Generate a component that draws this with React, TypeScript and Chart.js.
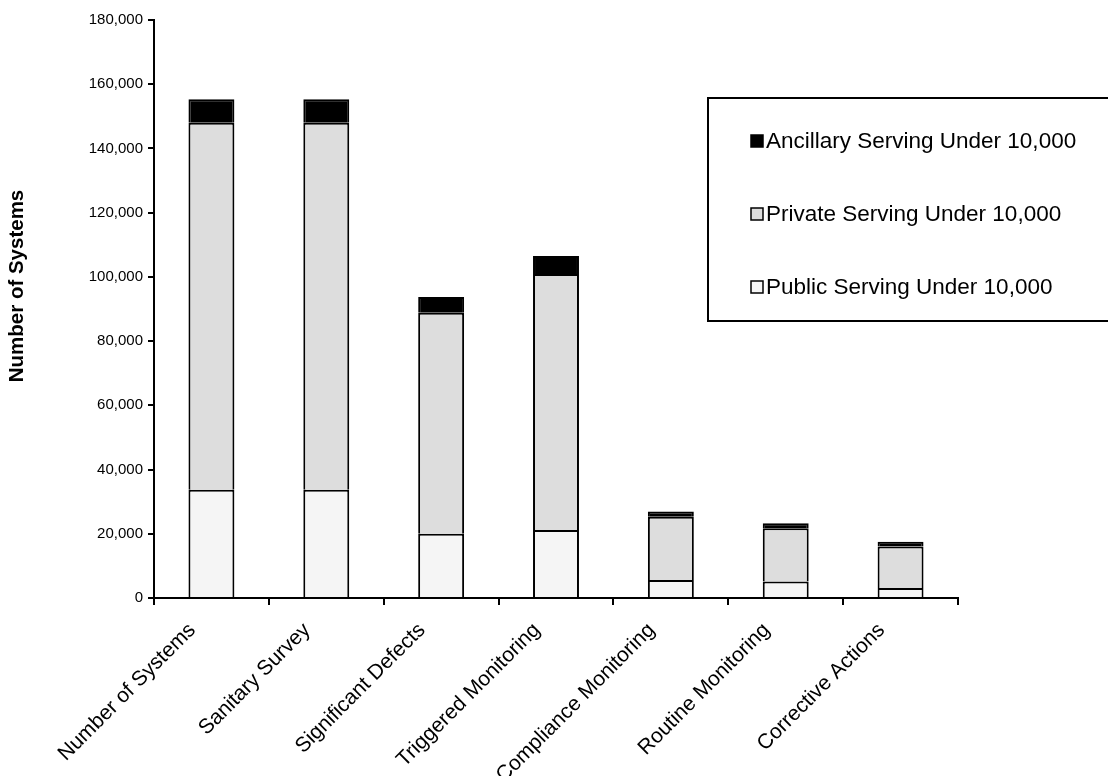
import React, { useEffect, useRef } from "react";
import { Chart, registerables } from "chart.js";

Chart.register(...registerables);

const categories = [
  "Number of Systems",
  "Sanitary Survey",
  "Significant Defects",
  "Triggered Monitoring",
  "Compliance Monitoring",
  "Routine Monitoring",
  "Corrective Actions",
];

const publicSystems = [33700, 33700, 20000, 21200, 5600, 5100, 3100];
const privateSystems = [114300, 114300, 68800, 79700, 19700, 16600, 12900];
const ancillarySystems = [7300, 7300, 4900, 5600, 1600, 1600, 1500];

const seriesLabels = [
  "Public Serving Under 10,000",
  "Private Serving Under 10,000",
  "Ancillary Serving Under 10,000",
];
const seriesColors = ["#f5f5f5", "#dddddd", "#000000"];

const yAxisTitle = "Number of Systems";
const yMax = 180000;
const yStep = 20000;

const FONT = "'Liberation Sans', Arial, Helvetica, sans-serif";

// Category labels at 45°, the rotated y-axis title and the boxed legend
const overlayPlugin = {
  id: "overlay",
  afterDraw(chart: any) {
    const ctx = chart.ctx as CanvasRenderingContext2D;
    const xScale = chart.scales.x;

    // category labels
    ctx.save();
    ctx.font = `21px ${FONT}`;
    ctx.fillStyle = "#000";
    ctx.textAlign = "right";
    ctx.textBaseline = "alphabetic";
    (chart.data.labels as string[]).forEach((label, i) => {
      const x = xScale.getPixelForValue(i) - 15;
      ctx.save();
      ctx.translate(x, 631);
      ctx.rotate(-Math.PI / 4);
      ctx.fillText(label, 0, 0);
      ctx.restore();
    });
    ctx.restore();

    // y-axis title
    ctx.save();
    ctx.translate(17, 286);
    ctx.rotate(-Math.PI / 2);
    ctx.font = `bold 20.5px ${FONT}`;
    ctx.fillStyle = "#000";
    ctx.textAlign = "center";
    ctx.textBaseline = "middle";
    ctx.fillText(yAxisTitle, 0, 0);
    ctx.restore();

    // legend box
    ctx.save();
    ctx.strokeStyle = "#000";
    ctx.lineWidth = 2;
    ctx.fillStyle = "#fff";
    ctx.fillRect(708, 98, 410, 223);
    ctx.strokeRect(708, 98, 410, 223);

    const datasets = chart.data.datasets;
    const rows = [141, 214, 287];
    const order = [2, 1, 0];
    ctx.font = `22.5px ${FONT}`;
    ctx.textBaseline = "middle";
    ctx.textAlign = "left";
    order.forEach((di, i) => {
      const ds = datasets[di];
      const y = rows[i];
      ctx.fillStyle = ds.backgroundColor;
      ctx.fillRect(751, y - 6, 12, 12);
      ctx.lineWidth = 1.5;
      ctx.strokeStyle = "#000";
      ctx.strokeRect(751, y - 6, 12, 12);
      ctx.fillStyle = "#000";
      ctx.fillText(ds.label, 766, y + 1);
    });
    ctx.restore();
  },
};

export default function App() {
  const canvasRef = useRef<HTMLCanvasElement | null>(null);

  useEffect(() => {
    if (!canvasRef.current) return;
    const values = [publicSystems, privateSystems, ancillarySystems];
    const chart = new Chart(canvasRef.current, {
      type: "bar",
      data: {
        labels: categories,
        datasets: values.map((data, i) => ({
          label: seriesLabels[i],
          data,
          backgroundColor: seriesColors[i],
          borderColor: "#000",
          borderWidth: { top: 2, left: 2, right: 2, bottom: 0 },
          borderSkipped: false,
          categoryPercentage: 1,
          barPercentage: 0.4,
        })),
      },
      options: {
        responsive: false,
        animation: false,
        maintainAspectRatio: false,
        layout: { padding: { top: 20, right: 150, left: 0, bottom: 0 } },
        plugins: {
          legend: { display: false },
          tooltip: { enabled: false },
        },
        scales: {
          x: {
            stacked: true,
            afterFit: (scale: any) => {
              scale.height = 178;
            },
            grid: {
              drawOnChartArea: false,
              drawTicks: true,
              tickLength: 7,
              color: "#000",
              lineWidth: 2,
              offset: true,
            },
            border: { display: true, color: "#000", width: 2 },
            ticks: { display: false, autoSkip: false },
          },
          y: {
            stacked: true,
            min: 0,
            max: yMax,
            afterFit: (scale: any) => {
              scale.width = 154;
            },
            grid: {
              drawOnChartArea: false,
              drawTicks: true,
              tickLength: 6,
              color: "#000",
              lineWidth: 2,
            },
            border: { display: true, color: "#000", width: 2 },
            ticks: {
              stepSize: yStep,
              color: "#000",
              padding: 5,
              font: { family: FONT, size: 15 },
              callback: (v: any) => Number(v).toLocaleString("en-US"),
            },
          },
        },
      },
      plugins: [overlayPlugin],
    });
    return () => chart.destroy();
  }, []);

  return (
    <div style={{ position: "absolute", left: 0, top: 0, width: 1108, height: 776, background: "#fff" }}>
      <canvas ref={canvasRef} width={1108} height={776} style={{ display: "block" }} />
    </div>
  );
}
